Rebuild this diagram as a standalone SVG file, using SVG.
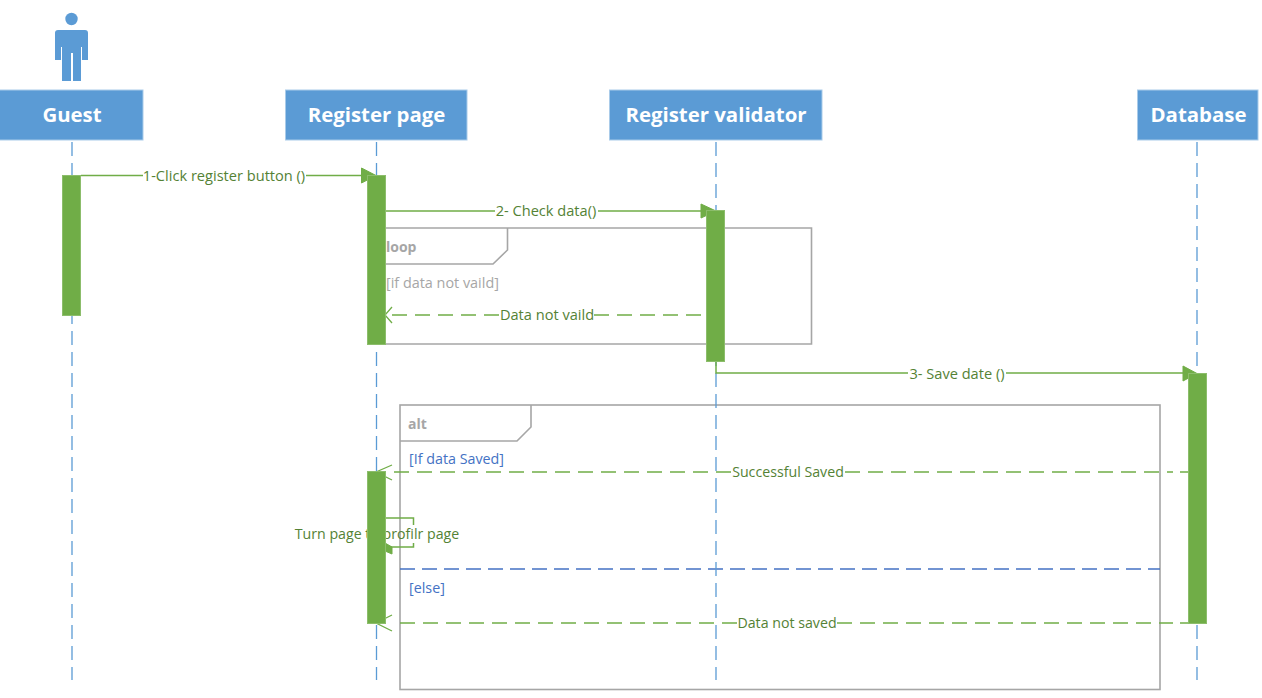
<svg xmlns="http://www.w3.org/2000/svg" width="1262" height="698" viewBox="0 0 1262 698">
<style>
text{font-family:"Open Sans","Noto Sans","Liberation Sans",sans-serif}
.head{fill:#5b9bd5;stroke:#a9cbe9;stroke-width:1}
.headt{fill:#fff;font-size:20.400px;font-weight:700;text-anchor:middle}
.life{stroke:#5b9bd5;stroke-width:1.3;stroke-dasharray:14 7;fill:none}
.bar{fill:#70ad47;stroke:#8cbd6b;stroke-width:1}
.msg{stroke:#70ad47;stroke-width:1.5;fill:none}
.ret{stroke:#70ad47;stroke-width:1.5;fill:none;stroke-dasharray:15 8}
.lbl{fill:#548235;font-size:14.600px;text-anchor:middle}
.lbl2{fill:#548235;font-size:14.200px;text-anchor:middle}
.frame{stroke:#a6a6a6;stroke-width:1.6;fill:none}
.ft{fill:#a6a6a6;font-size:14px;font-weight:700}
.guard{fill:#4472c4;font-size:14.300px}
.tip{fill:#70ad47;stroke:#70ad47;stroke-width:1}
.open{stroke:#70ad47;stroke-width:1.3;fill:none}
</style>
<g id="frames">
<path class="frame" d="M385 228H811.500V344H385"/>
<path class="frame" d="M385 264H493L507.500 250V228"/>
<text class="ft" x="386" y="252">loop</text>
<text x="386" y="288" style="fill:#a6a6a6;font-size:14.400px">[if data not vaild]</text>
<rect class="frame" x="400" y="405" width="760" height="284.500"/>
<path class="frame" d="M400 441H517L531 427V405"/>
<text class="ft" x="408" y="429">alt</text>
<text class="guard" x="409" y="464">[If data Saved]</text>
<path d="M400 569H1160" stroke="#4472c4" stroke-width="1.500" stroke-dasharray="15 7" fill="none"/>
<text class="guard" x="409" y="593">[else]</text>
</g>
<g id="connectors">
<path class="life" d="M72 142V680"/>
<path class="life" d="M376.500 142V680"/>
<path class="life" d="M716 142V680"/>
<path class="life" d="M1197 142V680"/>
<path class="msg" d="M81 175.500H143M306 175.500H362"/>
<path class="tip" d="M361.500 168L376 175.500L361.500 183Z"/>
<text class="lbl" x="224" y="181">1-Click register button ()</text>
<path class="msg" d="M385 211H495M598 211H702"/>
<path class="tip" d="M701 204L716 211L701 218Z"/>
<text class="lbl" x="546" y="216">2- Check data()</text>
<path class="ret" d="M594 315H706M499 315H392"/>
<path class="open" d="M392 307L385 315L392 323"/>
<text class="lbl" x="547" y="320">Data not vaild</text>
<path class="msg" d="M716 362V373H908M1006 373H1184"/>
<path class="tip" d="M1183 366L1197 373.500L1183 381Z"/>
<text class="lbl" x="957" y="379">3- Save date ()</text>
<path class="ret" d="M845 472H1173M731 472H392"/>
<path class="msg" d="M1180 472H1188M1180 623H1188"/>
<path class="open" d="M392 465L376 472L392 480"/>
<text class="lbl2" x="788" y="477">Successful Saved</text>
<path class="msg" d="M385 518H413.500V525M413.500 543V547H385"/>
<path class="tip" d="M385 543L392 547V554L385 551Z"/>
<text class="lbl2" x="377" y="539">Turn page to profilr page</text>
<path class="ret" d="M837 623H1173M737 623H392"/>
<path class="open" d="M392 615L376 623L392 631"/>
<text class="lbl2" x="787" y="628">Data not saved</text>
</g>
<g id="guest">
<circle cx="71.500" cy="19" r="6.200" fill="#5b9bd5"/>
<path fill="#5b9bd5" d="M58 30H85Q88 30 88 33V60H82V47H81V81H73V53H71V81H62V47H61V60H55V33Q55 30 58 30Z"/>
<rect class="head" x="-1" y="90" width="144" height="50"/>
<text class="headt" x="72" y="122">Guest</text>
</g>
<g id="register-page">
<rect class="head" x="285.500" y="90" width="181.500" height="50"/>
<text class="headt" x="376.500" y="122">Register page</text>
</g>
<g id="register-validator">
<rect class="head" x="609.500" y="90" width="212.500" height="50"/>
<text class="headt" x="716" y="122">Register validator</text>
</g>
<g id="database">
<rect class="head" x="1137.500" y="90" width="120.500" height="50"/>
<text class="headt" x="1198.500" y="122">Database</text>
</g>
<g id="activations">
<rect class="bar" x="62.500" y="175.500" width="18" height="140"/>
<rect class="bar" x="367.500" y="175.500" width="18" height="169"/>
<rect class="bar" x="706.500" y="210.500" width="18" height="151"/>
<rect class="bar" x="1188.500" y="373.500" width="18" height="250"/>
<rect class="bar" x="367.500" y="471.500" width="18" height="152"/>
</g>
</svg>
